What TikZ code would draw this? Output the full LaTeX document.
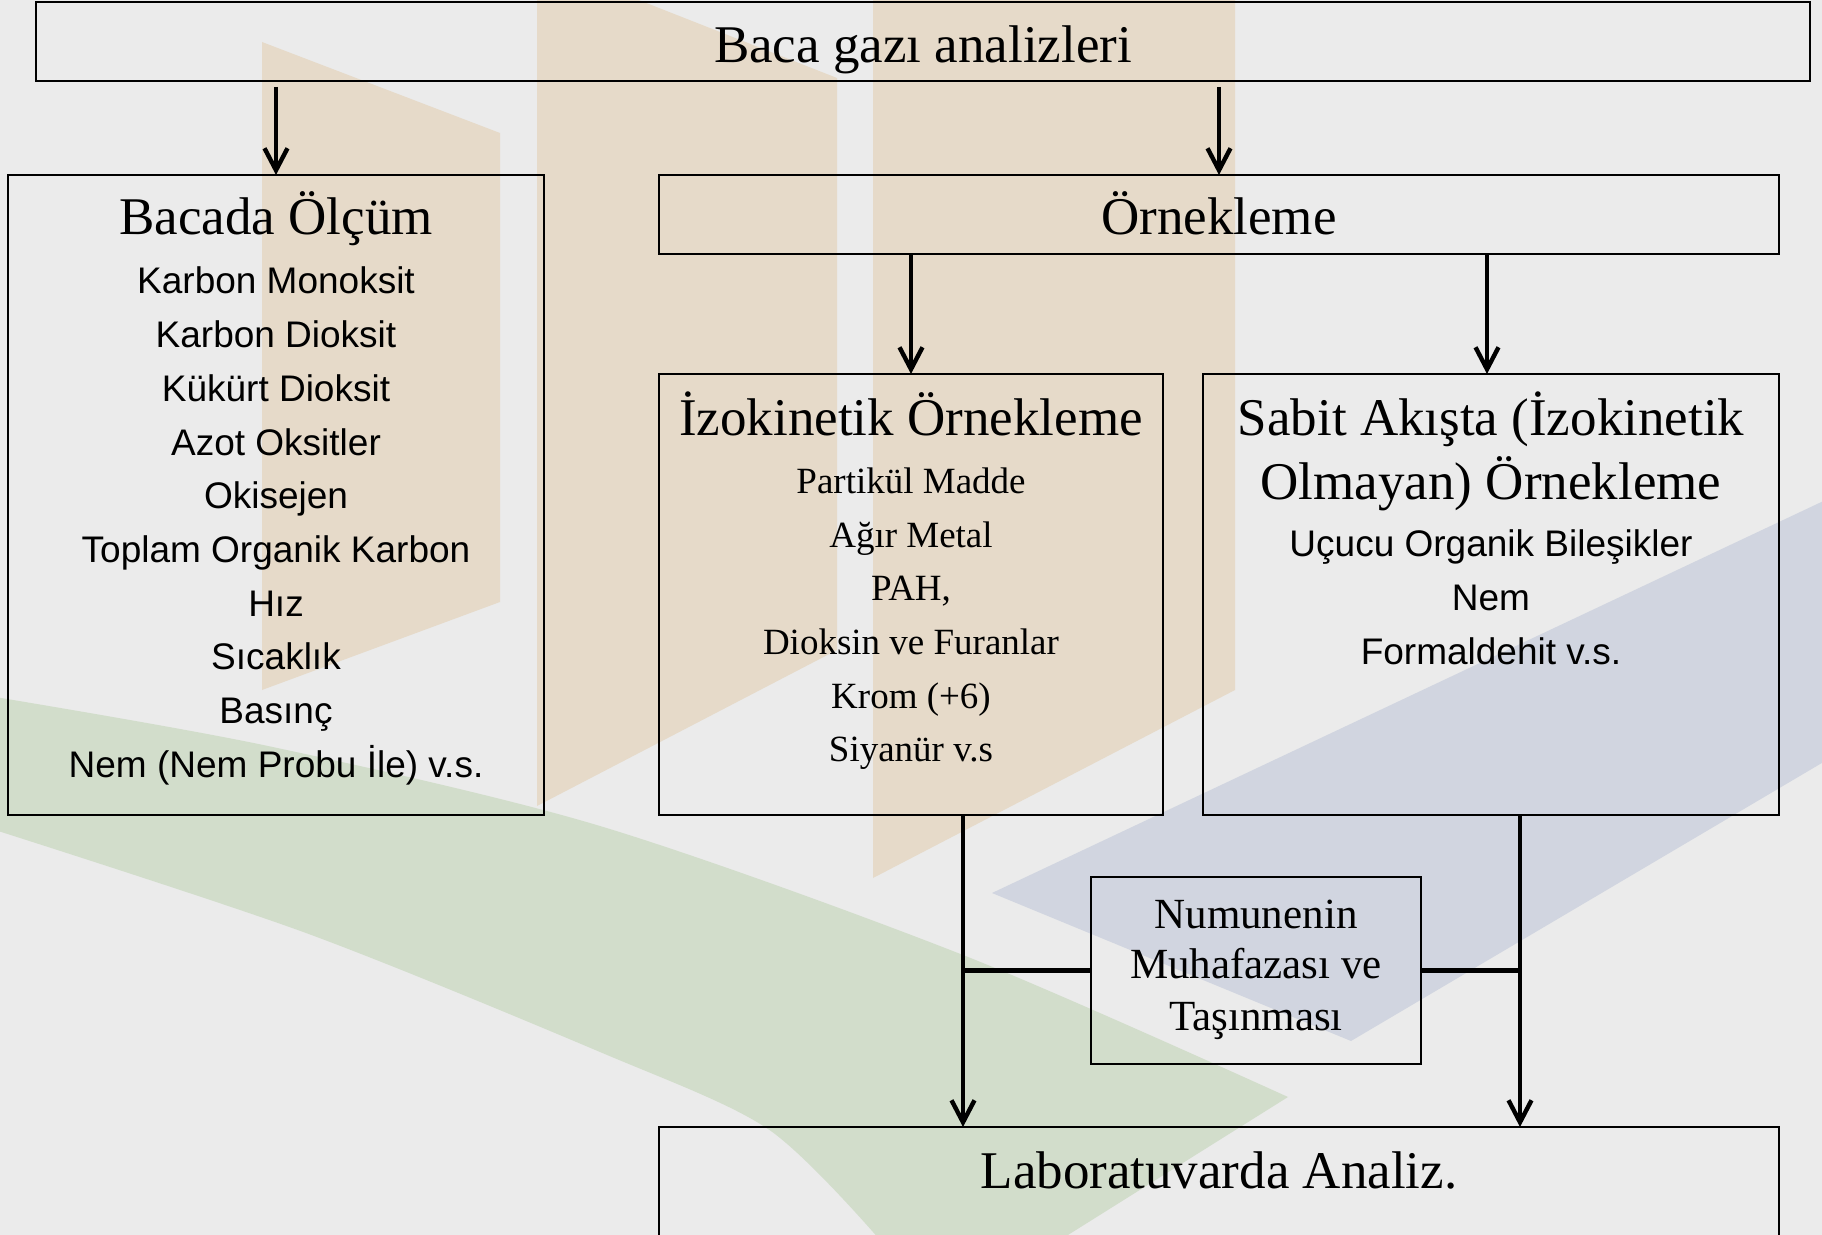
\documentclass[tikz,border=0pt]{standalone}
\usepackage{fontspec}
\setmainfont{Liberation Serif}
\newfontfamily\arialf{Liberation Sans}
\usetikzlibrary{arrows.meta}
\definecolor{bgc}{HTML}{EBEBEB}
\definecolor{tanc}{HTML}{E6DAC9}
\definecolor{grnc}{HTML}{D2DDCB}
\definecolor{bluc}{HTML}{D1D5E0}
\tikzset{
  box/.style={draw=black, line width=1.2pt, inner sep=0pt, outer sep=0pt},
  ttl/.style={anchor=base, inner sep=0pt, font=\fontsize{26.5pt}{30pt}\selectfont},
  itserif/.style={anchor=base, inner sep=0pt, font=\fontsize{18.5pt}{22pt}\selectfont},
  itsans/.style={anchor=base, inner sep=0pt, font=\arialf\fontsize{18.5pt}{22pt}\selectfont},
  numtxt/.style={anchor=base, inner sep=0pt, font=\fontsize{21.5pt}{25pt}\selectfont},
  arr/.style={line width=2.2pt, -{Straight Barb[length=11pt,width=11.5pt]}},
  conn/.style={line width=2.7pt},
}
\begin{document}
\begin{tikzpicture}[x=0.5pt, y=-0.5pt]
\clip (0,0) rectangle (1822,1235);
\fill[bgc] (0,0) rectangle (1822,1235);
% background logo shapes
\fill[tanc] (262,42) -- (500,133) -- (500,602) -- (262,690) -- cycle;
\fill[tanc] (537,-40) -- (837,78) -- (837,650) -- (537,806) -- cycle;
\fill[tanc] (873,-20) -- (1235,-20) -- (1235,690) -- (873,878) -- cycle;
\fill[grnc] plot[smooth] coordinates {(-5,697) (268,746) (600,826) (963,955) (1288,1097)}
  -- (1060,1240) -- plot[smooth] coordinates {(880,1240) (768,1129) (600,1052) (306,933) (-5,830)} -- cycle;
\fill[bluc] (992,893) -- (1351,1041) -- (1832,757) -- (1832,497) -- cycle;

% boxes
\node[box, minimum width=887pt, minimum height=39.5pt] (top) at (923,41.5) {};
\node[box, minimum width=268pt, minimum height=320pt] (bac) at (276,495) {};
\node[box, minimum width=560pt, minimum height=39.5pt] (orn) at (1219,214.5) {};
\node[box, minimum width=252pt, minimum height=220.5pt] (izo) at (911,594.5) {};
\node[box, minimum width=288pt, minimum height=220.5pt] (sab) at (1491,594.5) {};
\node[box, line width=1pt, minimum width=165pt, minimum height=93.5pt] (num) at (1256,970.5) {};
\node[box, minimum width=560pt, minimum height=86.5pt] (lab) at (1219,1213.5) {};

% texts
\node[ttl] (ttop) at (923,63) {Baca gazı analizleri};
\node[ttl] (tbac) at (276,235) {Bacada Ölçüm};
\node[ttl] (torn) at (1219,235) {Örnekleme};
\node[ttl] (tizo) at (911,436) {İzokinetik Örnekleme};
\node[ttl] (tsab1) at (1491,436) {Sabit Akışta (İzokinetik};
\node[ttl] (tsab2) at (1491,500) {Olmayan) Örnekleme};
\node[ttl] (tlab) at (1219,1188) {Laboratuvarda Analiz.};

\foreach \t [count=\i] in {Karbon Monoksit, Karbon Dioksit, Kükürt Dioksit, Azot Oksitler, Okisejen, Toplam Organik Karbon, Hız, Sıcaklık, Basınç, Nem (Nem Probu İle) v.s.}
  \node[itsans] (b\i) at (276,{294+53.7*(\i-1)}) {\t};

\foreach \t [count=\i] in {Partikül Madde, Ağır Metal, {PAH,}, Dioksin ve Furanlar, Krom (+6), Siyanür v.s}
  \node[itserif] (z\i) at (911,{494+53.5*(\i-1)}) {\t};

\foreach \t [count=\i] in {Uçucu Organik Bileşikler, Nem, Formaldehit v.s.}
  \node[itsans] (s\i) at (1491,{557+53.5*(\i-1)}) {\t};

\node[numtxt] (n1) at (1256,928) {Numunenin};
\node[numtxt] (n2) at (1256,978) {Muhafazası ve};
\node[numtxt] (n3) at (1256,1030) {Taşınması};

% connectors
\coordinate (vl) at (963,0);
\coordinate (vr) at (1520,0);
\draw[arr] ([yshift=-3pt]top.south -| bac.north) -- (bac.north);
\draw[arr] ([yshift=-3pt]top.south -| orn.north) -- (orn.north);
\draw[arr] (orn.south -| izo.north) -- (izo.north);
\draw[arr] ([xshift=-2pt]orn.south -| sab.north) -- ([xshift=-2pt]sab.north);
\draw[arr] (izo.south -| vl) -- (lab.north -| vl);
\draw[arr] (sab.south -| vr) -- (lab.north -| vr);
\draw[conn] (num.west) -- (num.west -| vl);
\draw[conn] (num.east) -- (num.east -| vr);
\end{tikzpicture}
\end{document}
